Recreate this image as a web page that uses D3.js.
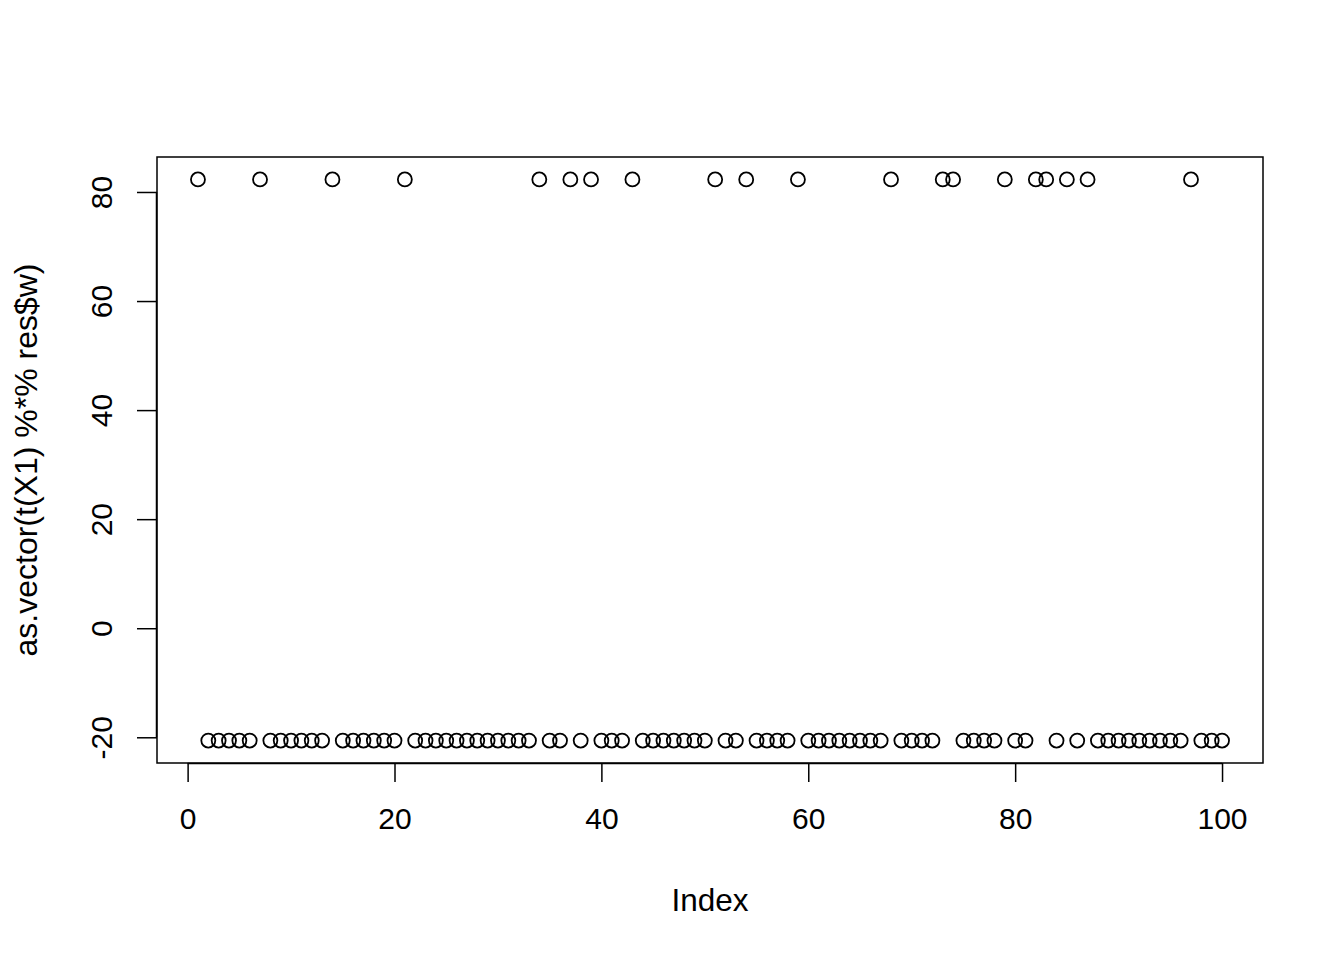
<!DOCTYPE html>
<html>
<head>
<meta charset="utf-8">
<script src="https://cdn.jsdelivr.net/npm/d3@7"></script>
<style>
  body { margin: 0; background: #fff; }
  text { font-family: "Liberation Sans", Arial, Helvetica, sans-serif; fill: #000; }
</style>
</head>
<body>
<div id="chart"></div>
<script>
// index positions whose value sits on the upper level
var highIdx = [1, 7, 14, 21, 34, 37, 39, 43, 51, 54, 59, 68, 73, 74, 79, 82, 83, 85, 87, 97]
var highVal = 82.3
var lowVal = -20.6
var xTicks = [0, 20, 40, 60, 80, 100]
var yTicks = [-20, 0, 20, 40, 60, 80]

var values = d3.range(1, 101).map(i => highIdx.includes(i) ? highVal : lowVal)

var width = 1344, height = 960
var margin = {top: 157, right: 81, bottom: 197, left: 157}

var svg = d3.select("#chart")
  .append("svg")
  .attr("width", width)
  .attr("height", height)

// R style 4% padding on both scales
var xPad = (100 - 1) * 0.04
var xScale = d3.scaleLinear()
  .domain([1 - xPad, 100 + xPad])
  .range([margin.left, width - margin.right])

var yMin = d3.min(values), yMax = d3.max(values)
var yPad = (yMax - yMin) * 0.04
var yScale = d3.scaleLinear()
  .domain([yMin - yPad, yMax + yPad])
  .range([height - margin.bottom, margin.top])

// plot box
svg.append("rect")
  .attr("x", margin.left)
  .attr("y", margin.top)
  .attr("width", width - margin.left - margin.right)
  .attr("height", height - margin.top - margin.bottom)
  .attr("fill", "none")
  .attr("stroke", "#000")
  .attr("stroke-width", 1.5)

// X axis
var xAxis = d3.axisBottom(xScale)
  .tickValues(xTicks)
  .tickFormat(d => String(d))
  .tickSize(19)
  .tickPadding(26)
  .tickSizeOuter(0)

var xRender = svg.append("g")
  .attr("transform", `translate(0,${height - margin.bottom})`)
  .call(xAxis)
xRender.select(".domain")
  .attr("d", `M${xScale(0)},0.5H${xScale(100)}`)
  .attr("stroke-width", 1.5)
xRender.selectAll(".tick line").attr("stroke-width", 1.5)
xRender.selectAll(".tick text")
  .style("font-size", "30px")
  .attr("font-family", null)

// Y axis, labels rotated like R's default las=0
var yAxis = d3.axisLeft(yScale)
  .tickValues(yTicks)
  .tickFormat(d => String(d))
  .tickSize(20)
  .tickSizeOuter(0)

var yRender = svg.append("g")
  .attr("transform", `translate(${margin.left},0)`)
  .call(yAxis)
yRender.select(".domain")
  .attr("d", `M-0.5,${yScale(-20)}V${yScale(80)}`)
  .attr("stroke-width", 1.5)
yRender.selectAll(".tick line").attr("stroke-width", 1.5)
yRender.selectAll(".tick text")
  .attr("font-family", null)
  .attr("x", null)
  .attr("dy", null)
  .style("font-size", "30px")
  .style("text-anchor", "middle")
  .attr("transform", "translate(-45,0) rotate(-90)")

// axis titles
svg.append("text")
  .attr("x", (margin.left + width - margin.right) / 2)
  .attr("y", 911)
  .attr("text-anchor", "middle")
  .style("font-size", "31.5px")
  .text("Index")

svg.append("text")
  .attr("text-anchor", "middle")
  .attr("transform", `translate(37,${(margin.top + height - margin.bottom) / 2}) rotate(-90)`)
  .style("font-size", "32px")
  .text("as.vector(t(X1) %*% res$w)")

// points
svg.append("g")
  .selectAll("circle")
  .data(values)
  .enter()
  .append("circle")
  .attr("cx", (d, i) => xScale(i + 1))
  .attr("cy", d => yScale(d))
  .attr("r", 7)
  .attr("fill", "none")
  .attr("stroke", "#000")
  .attr("stroke-width", 1.8)
</script>
</body>
</html>
